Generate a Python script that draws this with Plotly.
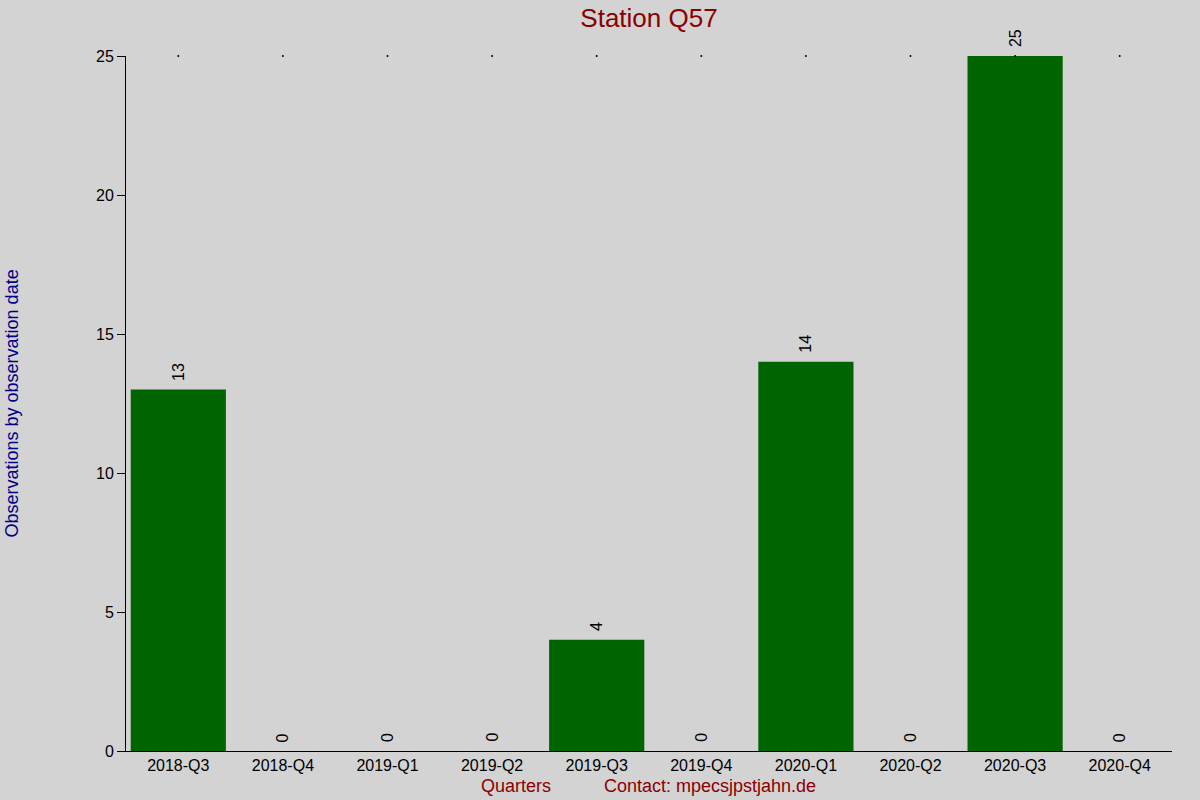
import plotly.graph_objects as go

quarters = ["2018-Q3", "2018-Q4", "2019-Q1", "2019-Q2", "2019-Q3",
            "2019-Q4", "2020-Q1", "2020-Q2", "2020-Q3", "2020-Q4"]
observations = [13, 0, 0, 0, 4, 0, 14, 0, 25, 0]
y_ticks = [0, 5, 10, 15, 20, 25]

title_text = "Station Q57"
y_title = "Observations by observation date"
x_title = "Quarters"
contact_text = "Contact: mpecsjpstjahn.de"

FONT = "Liberation Sans, Arial, sans-serif"
BG = "#d3d3d3"

fig = go.Figure()
fig.add_trace(go.Bar(
    x=quarters, y=observations,
    marker=dict(color="#006400", line=dict(width=0)),
    width=0.91,
    hoverinfo="skip",
))
# small dots along the top edge at each category
fig.add_trace(go.Scatter(
    x=quarters, y=[max(y_ticks)] * len(quarters),
    mode="markers",
    marker=dict(size=2, color="black", line=dict(width=0)),
    cliponaxis=False,
    hoverinfo="skip",
))

# value labels above each bar
for q, v in zip(quarters, observations):
    fig.add_annotation(x=q, y=v, text=str(v), textangle=-90,
                       xanchor="center", yanchor="bottom", yshift=7,
                       showarrow=False,
                       font=dict(family=FONT, size=16, color="black"))

fig.update_layout(
    width=1200, height=800,
    paper_bgcolor=BG, plot_bgcolor=BG,
    showlegend=False,
    margin=dict(l=126, r=28, t=56, b=49),
    font=dict(family=FONT, size=16, color="black"),
    title=dict(text=title_text, x=(126 + 1172) / 2 / 1200, xanchor="center",
               y=1 - 18 / 800, yanchor="middle",
               font=dict(family=FONT, size=26, color="#8b0000")),
)
fig.update_xaxes(
    type="category", range=[-0.5, 9.5],
    showgrid=False, zeroline=False,
    showline=True, linecolor="black", linewidth=1,
    ticks="", tickfont=dict(family=FONT, size=16, color="black"),
)
fig.update_yaxes(
    range=[0, 25], tickvals=y_ticks,
    showgrid=False, zeroline=False,
    showline=True, linecolor="black", linewidth=1,
    ticks="outside", ticklen=8, tickcolor="black",
    tickfont=dict(family=FONT, size=16, color="black"),
)
fig.add_annotation(text=y_title, xref="paper", yref="paper",
                   x=-(126 - 11) / 1046, y=0.5, textangle=-90,
                   xanchor="center", yanchor="middle", showarrow=False,
                   font=dict(family=FONT, size=18, color="#00008b"))
fig.add_annotation(text=x_title, xref="paper", yref="paper",
                   x=(516 - 126) / 1046, y=-(786 - 751) / 695,
                   xanchor="center", yanchor="middle", showarrow=False,
                   font=dict(family=FONT, size=18, color="#8b0000"))
fig.add_annotation(text=contact_text, xref="paper", yref="paper",
                   x=(710 - 126) / 1046, y=-(786 - 751) / 695,
                   xanchor="center", yanchor="middle", showarrow=False,
                   font=dict(family=FONT, size=18, color="#8b0000"))

fig.write_html("out.html", config={"displayModeBar": False},
               post_script="document.body.style.margin='0';document.body.style.overflow='hidden';")
